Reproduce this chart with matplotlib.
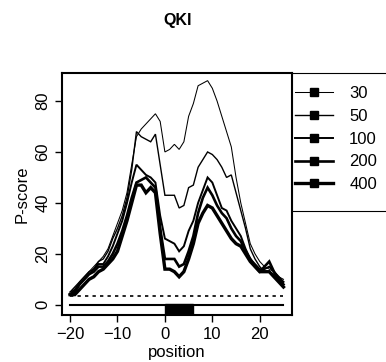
import numpy as np
import matplotlib.pyplot as plt
from matplotlib.patches import Rectangle

plt.rcParams['font.family'] = ['Liberation Sans', 'DejaVu Sans']

position = list(range(-20, 26))

p30 = [5, 6, 9, 11, 13, 15, 17, 19, 22, 27, 32, 37, 44, 55, 66, 69, 71, 73, 75, 72,
       60, 61, 63, 61, 64, 74, 79, 86, 87, 88, 85, 80, 74, 68, 62, 50, 40, 32, 24, 20,
       17, 15, 14, 13, 11, 10]
p50 = [5, 7, 9, 11, 13, 14, 17, 18, 21, 26, 30, 35, 42, 53, 68, 66, 65, 64, 67, 55,
       43, 43, 43, 38, 39, 46, 47, 54, 57, 60, 59, 57, 54, 50, 51, 44, 37, 30, 22, 18,
       15, 13, 13, 12, 10, 9]
p100 = [4, 6, 8, 10, 12, 14, 16, 16, 19, 23, 28, 33, 40, 48, 55, 53, 51, 50, 48, 35,
        26, 25, 24, 21, 23, 29, 33, 40, 45, 50, 48, 43, 38, 37, 33, 30, 27, 22, 18, 16,
        14, 14, 15, 13, 11, 9]
p200 = [4, 5, 8, 10, 12, 13, 15, 15, 17, 20, 24, 29, 35, 42, 48, 49, 50, 48, 46, 30,
        18, 18, 18, 15, 16, 21, 27, 36, 42, 46, 43, 39, 36, 34, 30, 27, 25, 21, 18, 15,
        13, 15, 17, 13, 10, 8]
p400 = [4, 4, 6, 8, 10, 11, 13, 14, 16, 18, 21, 27, 33, 40, 47, 47, 44, 46, 44, 28,
        14, 14, 13, 11, 13, 18, 24, 32, 36, 39, 38, 35, 32, 29, 26, 24, 23, 20, 17, 15,
        13, 13, 13, 11, 9, 7]

labels = ['30', '50', '100', '200', '400']
series = [p30, p50, p100, p200, p400]
widths = [0.75, 1.0, 1.4, 1.9, 2.4]

threshold = 3.3
motif_start, motif_end = 0, 6

fig = plt.figure(figsize=(3.86, 3.62), dpi=100)
ax = fig.add_axes([62/386, 47/362, 230/386, 242/362])

handles = []
for lab, ys, lw in zip(labels, series, widths):
    ax.plot(position, ys, color='black', lw=lw, solid_joinstyle='miter')
    h, = ax.plot([], [], color='black', lw=lw, marker='s', markersize=5.5, label=lab)
    handles.append(h)

ax.plot([position[0], position[-1]], [threshold, threshold], color='black',
        lw=1.2, ls=(0, (2, 2.5)))
ax.plot([position[0], position[-1]], [0, 0], color='black', lw=1.5)
ax.add_patch(Rectangle((motif_start, -6), motif_end - motif_start, 6.5,
                       facecolor='black', edgecolor='black'))

ax.set_xlim(-21.7, 26.8)
ax.set_ylim(-4, 91)
ax.set_xticks([-20, -10, 0, 10, 20])
ax.set_yticks([0, 20, 40, 60, 80])
ax.tick_params(direction='out', length=5, width=1, labelsize=12, colors='black')
for lab in ax.get_yticklabels():
    lab.set_rotation(90)
    lab.set_va('center')
for s in ax.spines.values():
    s.set_linewidth(1.5)
ax.set_xlabel('position', fontsize=12, labelpad=2)
ax.set_ylabel('P-score', fontsize=12, labelpad=4)

fig.text(178/386, 1 - 21/362, 'QKI', ha='center', va='center', fontsize=11.5,
         fontweight='bold')

# legend box sticking out past the right edge
fig.patches.append(Rectangle((292/386, 1 - 211/362), 0.4, (211 - 73)/362,
                             transform=fig.transFigure, facecolor='white',
                             edgecolor='black', lw=0.8, zorder=0))
leg = fig.legend(handles=handles, loc='upper left', bbox_to_anchor=(295/386, 1 - 86/362),
                 frameon=False, fontsize=12, handlelength=2.25, handletextpad=1.0,
                 labelspacing=0.47, borderpad=0, borderaxespad=0)

fig.savefig('out.png', dpi=100)
